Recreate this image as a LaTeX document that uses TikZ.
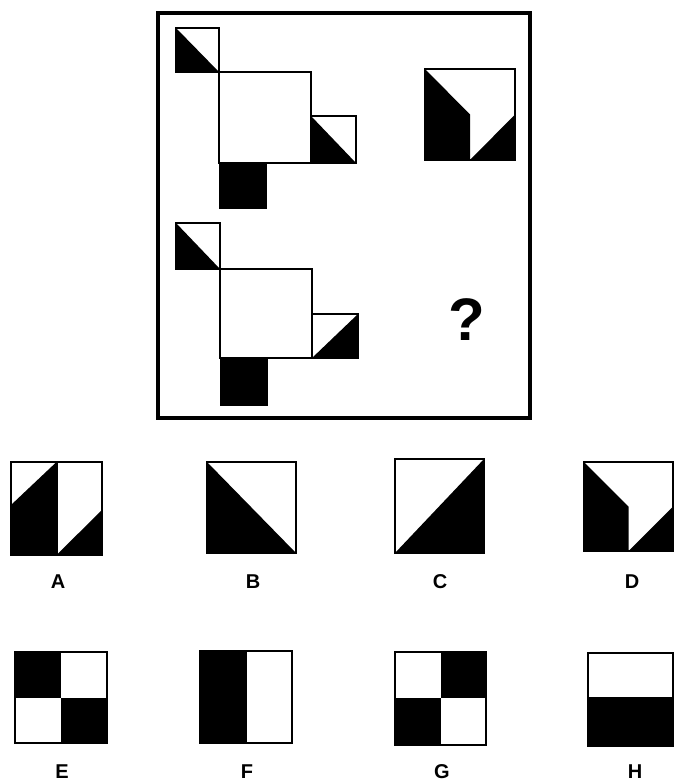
\documentclass[tikz,border=0pt]{standalone}
\usepackage{fontspec}
\setsansfont{Liberation Sans}
\begin{document}
\begin{tikzpicture}[x=1pt,y=-1pt,
  box/.style={draw=black,line width=2.6pt,line join=miter},
  frame/.style={draw=black,line width=3.6pt},
  blk/.style={fill=black},
  lbl/.style={font=\sffamily\bfseries\fontsize{20}{20}\selectfont,inner sep=0pt,anchor=center},
  qmark/.style={font=\sffamily\bfseries\fontsize{60}{60}\selectfont,inner sep=0pt,anchor=center}]
\useasboundingbox (0,0) rectangle (675,782);
% outer frame
\draw[frame] (158,13) rectangle (530,418);
% ---- top-left figure
\fill[blk] (176,28)--(219,72)--(176,72)--cycle;
\draw[box] (176,28) rectangle (219,72);
\draw[box] (219,72) rectangle (311,163);
\fill[blk] (311,116)--(356,163)--(311,163)--cycle;
\draw[box] (311,116) rectangle (356,163);
\fill[blk] (220,163) rectangle (266,208);
\draw[box] (220,163) rectangle (266,208);
% ---- top-right figure
\fill[blk] (425,69)--(470,114.5)--(470,160)--(425,160)--cycle;
\fill[blk] (470,160)--(515,114.5)--(515,160)--cycle;
\draw[box] (425,69) rectangle (515,160);
% ---- bottom-left figure
\fill[blk] (176,223)--(220,269)--(176,269)--cycle;
\draw[box] (176,223) rectangle (220,269);
\draw[box] (220,269) rectangle (312,358);
\fill[blk] (312,358)--(358,314)--(358,358)--cycle;
\draw[box] (312,314) rectangle (358,358);
\fill[blk] (221,358) rectangle (267,405);
\draw[box] (221,358) rectangle (267,405);
% question mark
\node[qmark] (q) at (467,320) {?};
% ---- option A
\fill[blk] (11,505)--(56.5,462)--(56.5,555)--(11,555)--cycle;
\fill[blk] (56.5,555)--(102,510)--(102,555)--cycle;
\draw[box] (11,462) rectangle (102,555);
\draw[box] (56.5,462)--(56.5,555);
% option B
\fill[blk] (207,462)--(296,553)--(207,553)--cycle;
\draw[box] (207,462) rectangle (296,553);
% option C
\fill[blk] (395,553)--(484,459)--(484,553)--cycle;
\draw[box] (395,459) rectangle (484,553);
% option D
\fill[blk] (584,462)--(628.5,506.5)--(628.5,551)--(584,551)--cycle;
\fill[blk] (628.5,551)--(673,506.5)--(673,551)--cycle;
\draw[box] (584,462) rectangle (673,551);
% labels row 1
\node[lbl] (la) at (58,582) {A};
\node[lbl] (lb) at (253,582) {B};
\node[lbl] (lc) at (440,582) {C};
\node[lbl] (ld) at (632,582) {D};
% option E
\fill[blk] (15,652) rectangle (61,698);
\fill[blk] (61,698) rectangle (107,743);
\draw[box] (15,652) rectangle (107,743);
% option F
\fill[blk] (200,651) rectangle (247,743);
\draw[box] (200,651) rectangle (292,743);
% option G
\fill[blk] (441,652) rectangle (486,698);
\fill[blk] (395,698) rectangle (441,745);
\draw[box] (395,652) rectangle (486,745);
% option H
\fill[blk] (588,697) rectangle (673,746);
\draw[box] (588,653) rectangle (673,746);
% labels row 2
\node[lbl] (le) at (62,772) {E};
\node[lbl] (lf) at (247,772) {F};
\node[lbl] (lg) at (442,772) {G};
\node[lbl] (lh) at (635,772) {H};
\end{tikzpicture}
\end{document}
